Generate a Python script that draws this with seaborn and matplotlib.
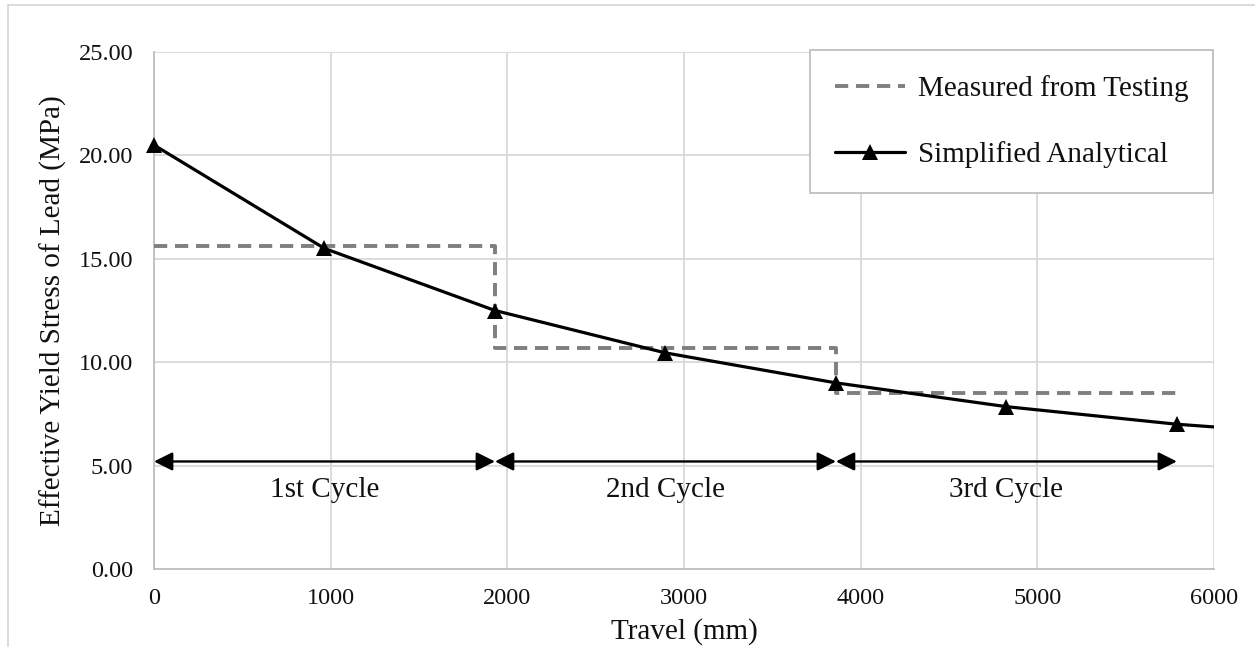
import matplotlib
matplotlib.use("Agg")
import matplotlib.pyplot as plt
from matplotlib.lines import Line2D
import seaborn as sns
import pandas as pd

# ---- data ----
analytical_x = [0, 965, 1930, 2895, 3860, 4825, 5790]
analytical_y = [20.5, 15.5, 12.5, 10.45, 9.0, 7.85, 7.0]
analytical_end_x = [5790, 6000]
analytical_end_y = [7.0, 6.87]
measured_x = [0, 1930, 1930, 3860, 3860, 5790]
measured_y = [15.6, 15.6, 10.7, 10.7, 8.5, 8.5]
cycle_bounds = [0, 1930, 3860, 5790]
cycle_labels = ["1st Cycle", "2nd Cycle", "3rd Cycle"]
arrow_y = 5.2
label_y = 3.8
x_ticks = [0, 1000, 2000, 3000, 4000, 5000, 6000]
y_ticks = [0, 5, 10, 15, 20, 25]

sns.set_theme(style="white")
plt.rcParams["font.family"] = ["Liberation Serif", "DejaVu Serif"]

fig = plt.figure(figsize=(12.55, 6.47), dpi=100)
ax = fig.add_axes([154/1255, 1-569/647, (1214-154)/1255, (569-52)/647])

df_m = pd.DataFrame({"x": measured_x, "y": measured_y})
df_a = pd.DataFrame({"x": analytical_x, "y": analytical_y})
df_e = pd.DataFrame({"x": analytical_end_x, "y": analytical_end_y})

dash = (0, (3.4, 2.0))
sns.lineplot(data=df_m, x="x", y="y", ax=ax, color="#7f7f7f", lw=2.8,
             linestyle=dash, sort=False, estimator=None, zorder=3)
sns.lineplot(data=df_e, x="x", y="y", ax=ax, color="black", lw=2.3,
             sort=False, estimator=None, zorder=4)
sns.lineplot(data=df_a, x="x", y="y", ax=ax, color="black", lw=2.3,
             marker="^", markersize=12, markeredgewidth=0, sort=False,
             estimator=None, zorder=5, clip_on=False)

for i in range(len(cycle_labels)):
    ax.annotate("", xy=(cycle_bounds[i+1], arrow_y), xytext=(cycle_bounds[i], arrow_y),
                arrowprops=dict(arrowstyle="<|-|>", color="black", lw=1.7,
                                mutation_scale=28, shrinkA=0, shrinkB=0),
                zorder=6)
    ax.text((cycle_bounds[i] + cycle_bounds[i+1]) / 2, label_y, cycle_labels[i],
            ha="center", va="center", fontsize=21, color="#111111")

ax.set_xlim(0, 6000)
ax.set_ylim(0, 25)
ax.set_xticks(x_ticks)
ax.set_yticks(y_ticks)
ax.set_yticklabels([f"{v:.2f}" for v in y_ticks])
ax.grid(True, color="#d9d9d9", lw=1.3)
ax.set_axisbelow(True)
for s in ["top", "right"]:
    ax.spines[s].set_visible(False)
for s in ["left", "bottom"]:
    ax.spines[s].set_color("#bfbfbf")
    ax.spines[s].set_linewidth(1.3)
ax.tick_params(axis="both", length=0, labelsize=17.5, colors="#111111")
ax.tick_params(axis="y", pad=15)
ax.tick_params(axis="x", pad=14)
ax.set_xlabel("Travel (mm)", fontsize=21, color="#111111", labelpad=6)
ax.set_ylabel("Effective Yield Stress of Lead (MPa)", fontsize=21, color="#111111", labelpad=8)

handles = [Line2D([], [], color="#7f7f7f", lw=2.8, linestyle=dash),
           Line2D([0, 1, 2], [0, 0, 0], color="black", lw=2.3, marker="^", markersize=12,
                  markeredgewidth=0, markevery=[1])]
leg = fig.legend(handles, ["Measured from Testing", "Simplified Analytical"],
                 loc="upper left", bbox_to_anchor=(810/1255, 1-50/647),
                 fontsize=21, frameon=True, fancybox=False, framealpha=1,
                 edgecolor="#bfbfbf", handlelength=2.4, handletextpad=0.45,
                 labelspacing=1.35, borderpad=0.85, borderaxespad=0)
leg.get_frame().set_linewidth(1.3)
for t in leg.get_texts():
    t.set_color("#111111")

fig.add_artist(Line2D([8/1255, 8/1255], [0, 1-5/647], color="#d9d9d9", lw=1.3))
fig.add_artist(Line2D([8/1255, 1], [1-5/647, 1-5/647], color="#d9d9d9", lw=1.3))

fig.savefig("out.png", dpi=100)
